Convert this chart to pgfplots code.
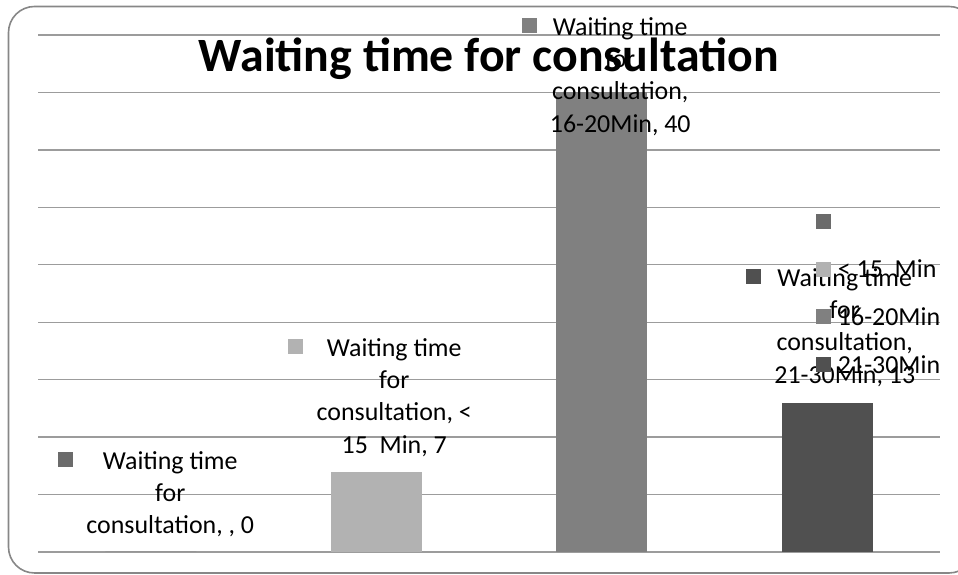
\documentclass[border=0pt]{standalone}
\usepackage{pgfplots}
\pgfplotsset{compat=1.18}
\usepackage{fontspec}
\setmainfont{Carlito}
\definecolor{cA}{HTML}{6B6B6B}
\definecolor{cB}{HTML}{B2B2B2}
\definecolor{cC}{HTML}{808080}
\definecolor{cD}{HTML}{505050}
\definecolor{gridc}{HTML}{9C9C9C}
\definecolor{framec}{HTML}{878787}
\newcommand{\lblfont}{\fontsize{26}{32.5}\selectfont}
\begin{document}
\begin{tikzpicture}[x=1bp,y=1bp]
\useasboundingbox (0,0) rectangle (958,575);
\begin{scope}
\clip (0,0) rectangle (958,575);
\draw[framec, line width=1.6bp, rounded corners=26bp] (8.5,2) rectangle (975,568.5);
\end{scope}
\node[anchor=base, font=\fontsize{48}{56}\selectfont\bfseries, inner sep=0pt] at (489,503) {Waiting time for consultation};
\begin{axis}[
  at={(38bp,23bp)}, anchor=south west,
  scale only axis, width=902bp, height=517bp,
  xmin=-0.5, xmax=3.5, ymin=0, ymax=45,
  ytick={0,5,...,45}, xtick=\empty, yticklabels={},
  ymajorgrids, grid style={gridc, line width=1.3bp},
  axis line style={draw=none}, major tick style={draw=none},
  ybar, bar width=91bp, bar shift=0pt,
  clip=false,
  legend style={at={(0.8625,0.6576)}, anchor=north west, draw=none, fill=none,
    inner sep=0pt, outer sep=0pt, row sep=23.7bp, font=\lblfont,
    nodes={inner sep=0pt, anchor=base west, text height=18bp, text depth=6bp}},
  legend image code/.code={\fill[#1] (0bp,1bp) rectangle (15bp,16bp);},
  /tikz/every odd column/.append style={column sep=7bp},
]
\addplot[fill=cA, draw=none] coordinates {(0,0)};
\addlegendentry{\mbox{}}
\addplot[fill=cB, draw=none] coordinates {(1,7)};
\addlegendentry{< 15\ \ Min}
\addplot[fill=cC, draw=none] coordinates {(2,40)};
\addlegendentry{16-20Min}
\addplot[fill=cD, draw=none] coordinates {(3,13)};
\addlegendentry{21-30Min}

\node[anchor=north, align=center, font=\lblfont, inner sep=0pt, xshift=19.5bp] (L0) at (axis cs:0,8.79) {Waiting time\\for\\consultation, , 0};
\fill[cA] ([xshift=-28bp,yshift=-1bp]L0.north west) rectangle ++(15bp,-15bp);
\node[anchor=north, align=center, font=\lblfont, inner sep=0pt, xshift=18bp] (L1) at (axis cs:1,18.63) {Waiting time\\for\\consultation, <\\15\ \ Min, 7};
\fill[cB] ([xshift=-28bp,yshift=-1bp]L1.north west) rectangle ++(15bp,-15bp);
\node[anchor=north, align=center, font=\lblfont, inner sep=0pt, xshift=18.5bp] (L2) at (axis cs:2,46.56) {Waiting time\\for\\consultation,\\16-20Min, 40};
\fill[cC] ([xshift=-28bp,yshift=-1bp]L2.north west) rectangle ++(15bp,-15bp);
\node[anchor=north, align=center, font=\lblfont, inner sep=0pt, xshift=17.5bp] (L3) at (axis cs:3,24.72) {Waiting time\\for\\consultation,\\21-30Min, 13};
\fill[cD] ([xshift=-28bp,yshift=-1bp]L3.north west) rectangle ++(15bp,-15bp);
\end{axis}
\end{tikzpicture}
\end{document}
